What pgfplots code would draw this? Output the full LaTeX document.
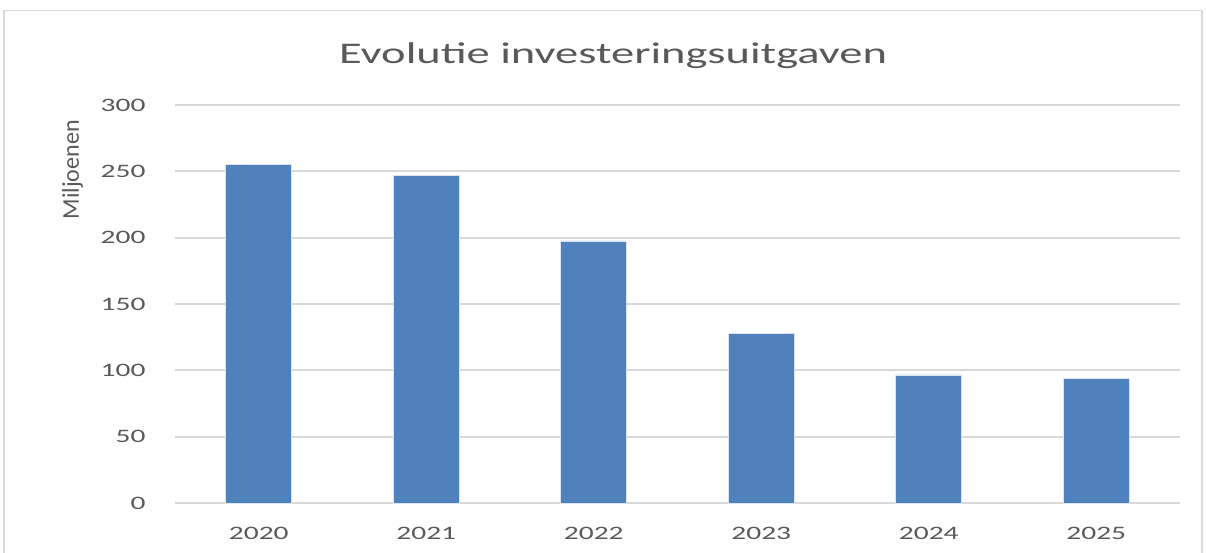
\documentclass[border=0pt]{standalone}
\usepackage{pgfplots}
\pgfplotsset{compat=1.18}
\usepackage{fontspec}
\setmainfont[FakeStretch=1.55]{Carlito}
\newfontfamily\plainfont{Carlito}
\definecolor{barblue}{HTML}{4F81BD}
\definecolor{gridgray}{HTML}{D9D9D9}
\definecolor{txtgray}{HTML}{595959}
\begin{document}
\begin{tikzpicture}[x=1pt,y=1pt]
\path[use as bounding box] (0,0) rectangle (1206,553);
\draw[gridgray, line width=1.5pt] (4,-5) -- (4,542.5) -- (1202,542.5) -- (1202,-5);
\node[txtgray, font=\fontsize{30}{34}\selectfont] at (613,497) {Evolutie investeringsuitgaven};
\begin{axis}[
  at={(175pt,50pt)}, anchor=south west,
  scale only axis, width=1005pt, height=398pt,
  xmin=-0.5, xmax=5.5, ymin=0, ymax=300,
  ytick={0,50,...,300},
  xtick={0,...,5},
  xticklabels={2020,2021,2022,2023,2024,2025},
  ymajorgrids, grid style={gridgray, line width=1.8pt},
  axis line style={draw=none},
  major tick length=0pt,
  ticklabel style={txtgray, font=\fontsize{19}{22}\selectfont},
  /pgf/number format/assume math mode=true,
  yticklabel style={xshift=-26pt},
  xticklabel style={yshift=-21pt},
  ylabel={\plainfont\fontsize{24}{28}\selectfont Miljoenen},
  ylabel style={txtgray, at={(axis description cs:-0.102,0.837)}, anchor=center},
  clip=false,
]
\addplot[ybar, bar width=66pt, fill=barblue, draw=white!80!barblue, line width=0.8pt]
  coordinates {(0,255.5) (1,247) (2,197.5) (3,128) (4,96.5) (5,93.7)};
\end{axis}
\end{tikzpicture}
\end{document}
